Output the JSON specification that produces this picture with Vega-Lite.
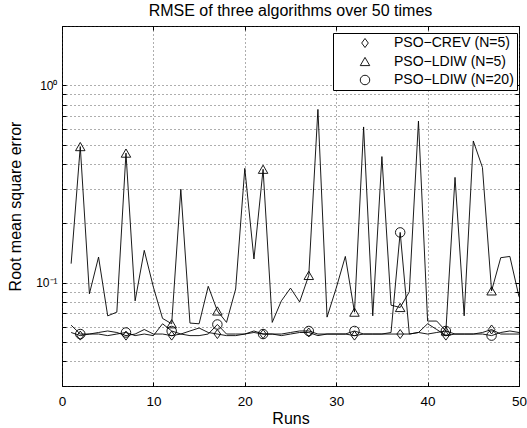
{
  "$schema": "https://vega.github.io/schema/vega-lite/v6.json",
  "width": 457,
  "height": 360,
  "autosize": {"type": "none"},
  "padding": {"left": 62, "top": 26, "right": 8, "bottom": 42},
  "background": "white",
  "title": {"text": "RMSE of three algorithms over 50 times", "fontSize": 16, "font": "Liberation Sans", "fontWeight": "normal", "offset": 7, "anchor": "middle", "color": "black"},
  "config": {
    "view": {"stroke": "black", "strokeWidth": 1},
    "font": "Liberation Sans",
    "axis": {
      "domain": false,
      "grid": true,
      "gridDash": [1, 3],
      "gridColor": "#333",
      "gridWidth": 0.8,
      "tickColor": "black",
      "tickSize": -4,
      "labelColor": "black",
      "labelFont": "Liberation Sans",
      "labelFontSize": 13.5,
      "titleFont": "Liberation Sans",
      "titleFontSize": 16,
      "titleFontWeight": "normal",
      "titleColor": "black"
    }
  },
  "data": {"values": [
    {"run": 1, "crev": 0.056, "ldiw5": 0.125, "ldiw20": 0.061},
    {"run": 2, "crev": 0.054, "ldiw5": 0.49, "ldiw20": 0.055},
    {"run": 3, "crev": 0.055, "ldiw5": 0.088, "ldiw20": 0.055},
    {"run": 4, "crev": 0.056, "ldiw5": 0.135, "ldiw20": 0.055},
    {"run": 5, "crev": 0.057, "ldiw5": 0.068, "ldiw20": 0.054},
    {"run": 6, "crev": 0.056, "ldiw5": 0.071, "ldiw20": 0.055},
    {"run": 7, "crev": 0.054, "ldiw5": 0.454, "ldiw20": 0.056},
    {"run": 8, "crev": 0.055, "ldiw5": 0.081, "ldiw20": 0.054},
    {"run": 9, "crev": 0.058, "ldiw5": 0.146, "ldiw20": 0.055},
    {"run": 10, "crev": 0.055, "ldiw5": 0.095, "ldiw20": 0.054},
    {"run": 11, "crev": 0.055, "ldiw5": 0.066, "ldiw20": 0.062},
    {"run": 12, "crev": 0.054, "ldiw5": 0.062, "ldiw20": 0.057},
    {"run": 13, "crev": 0.055, "ldiw5": 0.298, "ldiw20": 0.055},
    {"run": 14, "crev": 0.057, "ldiw5": 0.0625, "ldiw20": 0.054},
    {"run": 15, "crev": 0.059, "ldiw5": 0.062, "ldiw20": 0.054},
    {"run": 16, "crev": 0.056, "ldiw5": 0.096, "ldiw20": 0.055},
    {"run": 17, "crev": 0.055, "ldiw5": 0.072, "ldiw20": 0.0615},
    {"run": 18, "crev": 0.054, "ldiw5": 0.063, "ldiw20": 0.055},
    {"run": 19, "crev": 0.054, "ldiw5": 0.093, "ldiw20": 0.055},
    {"run": 20, "crev": 0.055, "ldiw5": 0.38, "ldiw20": 0.055},
    {"run": 21, "crev": 0.057, "ldiw5": 0.132, "ldiw20": 0.056},
    {"run": 22, "crev": 0.055, "ldiw5": 0.376, "ldiw20": 0.055},
    {"run": 23, "crev": 0.055, "ldiw5": 0.063, "ldiw20": 0.055},
    {"run": 24, "crev": 0.054, "ldiw5": 0.081, "ldiw20": 0.055},
    {"run": 25, "crev": 0.055, "ldiw5": 0.094, "ldiw20": 0.056},
    {"run": 26, "crev": 0.056, "ldiw5": 0.08, "ldiw20": 0.057},
    {"run": 27, "crev": 0.056, "ldiw5": 0.109, "ldiw20": 0.057},
    {"run": 28, "crev": 0.054, "ldiw5": 0.756, "ldiw20": 0.055},
    {"run": 29, "crev": 0.055, "ldiw5": 0.067, "ldiw20": 0.055},
    {"run": 30, "crev": 0.055, "ldiw5": 0.094, "ldiw20": 0.055},
    {"run": 31, "crev": 0.055, "ldiw5": 0.136, "ldiw20": 0.055},
    {"run": 32, "crev": 0.054, "ldiw5": 0.071, "ldiw20": 0.057},
    {"run": 33, "crev": 0.055, "ldiw5": 0.616, "ldiw20": 0.055},
    {"run": 34, "crev": 0.055, "ldiw5": 0.068, "ldiw20": 0.055},
    {"run": 35, "crev": 0.055, "ldiw5": 0.436, "ldiw20": 0.055},
    {"run": 36, "crev": 0.055, "ldiw5": 0.077, "ldiw20": 0.056},
    {"run": 37, "crev": 0.055, "ldiw5": 0.075, "ldiw20": 0.18},
    {"run": 38, "crev": 0.055, "ldiw5": 0.09, "ldiw20": 0.055},
    {"run": 39, "crev": 0.056, "ldiw5": 0.66, "ldiw20": 0.056},
    {"run": 40, "crev": 0.062, "ldiw5": 0.064, "ldiw20": 0.055},
    {"run": 41, "crev": 0.058, "ldiw5": 0.064, "ldiw20": 0.056},
    {"run": 42, "crev": 0.054, "ldiw5": 0.057, "ldiw20": 0.057},
    {"run": 43, "crev": 0.055, "ldiw5": 0.342, "ldiw20": 0.055},
    {"run": 44, "crev": 0.055, "ldiw5": 0.068, "ldiw20": 0.055},
    {"run": 45, "crev": 0.055, "ldiw5": 0.523, "ldiw20": 0.055},
    {"run": 46, "crev": 0.056, "ldiw5": 0.384, "ldiw20": 0.055},
    {"run": 47, "crev": 0.058, "ldiw5": 0.091, "ldiw20": 0.054},
    {"run": 48, "crev": 0.055, "ldiw5": 0.134, "ldiw20": 0.056},
    {"run": 49, "crev": 0.055, "ldiw5": 0.136, "ldiw20": 0.057},
    {"run": 50, "crev": 0.055, "ldiw5": 0.085, "ldiw20": 0.056}
  ]},
  "transform": [{"fold": ["crev", "ldiw5", "ldiw20"], "as": ["series", "rmse"]}],
  "resolve": {"axis": {"x": "independent", "y": "independent"}},
  "layer": [
    {
      "mark": {"type": "line", "stroke": "black", "strokeWidth": 0.9},
      "encoding": {
        "x": {
          "field": "run", "type": "quantitative", "title": "Runs",
          "scale": {"domain": [0, 50], "nice": false, "zero": false},
          "axis": {"orient": "bottom", "values": [0, 10, 20, 30, 40, 50], "labelPadding": 12, "titlePadding": 3, "labelFlush": false}
        },
        "y": {
          "field": "rmse", "type": "quantitative", "title": "Root mean square error",
          "scale": {"type": "log", "domain": [0.03, 2], "nice": false},
          "axis": {
            "orient": "left",
            "values": [0.03, 0.04, 0.05, 0.06, 0.07, 0.08, 0.09, 0.1, 0.2, 0.3, 0.4, 0.5, 0.6, 0.7, 0.8, 0.9, 1, 2],
            "labelExpr": "datum.value == 1 ? '10⁰' : (datum.value == 0.1 ? '10⁻¹' : '')",
            "labelPadding": 9, "titlePadding": 12, "labelFontSize": 12
          }
        },
        "detail": {"field": "series"}
      }
    },
    {
      "transform": [{"filter": "datum.run % 5 == 2"}],
      "mark": {"type": "point", "filled": false, "stroke": "black", "strokeWidth": 0.9, "size": 90, "opacity": 1},
      "encoding": {
        "x": {"field": "run", "type": "quantitative", "axis": null},
        "y": {"field": "rmse", "type": "quantitative", "axis": null},
        "shape": {
          "field": "series", "type": "nominal",
          "scale": {"domain": ["crev", "ldiw5", "ldiw20"], "range": ["M0,-0.95L0.7,0L0,0.95L-0.7,0Z", "triangle-up", "circle"]},
          "legend": {
            "title": null,
            "orient": "none",
            "legendX": 271,
            "legendY": 7,
            "direction": "vertical",
            "labelExpr": "datum.value == 'crev' ? 'PSO−CREV (N=5)' : (datum.value == 'ldiw5' ? 'PSO−LDIW (N=5)' : 'PSO−LDIW (N=20)')",
            "labelFontSize": 14,
            "labelFont": "Liberation Sans",
            "labelColor": "black",
            "labelOffset": 22,
            "symbolOffset": 22,
            "symbolStrokeColor": "black",
            "symbolFillColor": "white",
            "symbolStrokeWidth": 0.9,
            "symbolSize": 90,
            "rowPadding": 4.5,
            "padding": 3,
            "strokeColor": "black",
            "fillColor": "white"
          }
        }
      }
    },
    {
      "mark": {"type": "point", "opacity": 0},
      "encoding": {
        "x": {"field": "run", "type": "quantitative", "axis": {"orient": "top", "values": [0, 10, 20, 30, 40, 50], "labels": false, "grid": false, "title": null}},
        "y": {"field": "rmse", "type": "quantitative", "axis": {"orient": "right", "values": [0.03, 0.04, 0.05, 0.06, 0.07, 0.08, 0.09, 0.1, 0.2, 0.3, 0.4, 0.5, 0.6, 0.7, 0.8, 0.9, 1, 2], "labels": false, "grid": false, "title": null}}
      }
    }
  ]
}
